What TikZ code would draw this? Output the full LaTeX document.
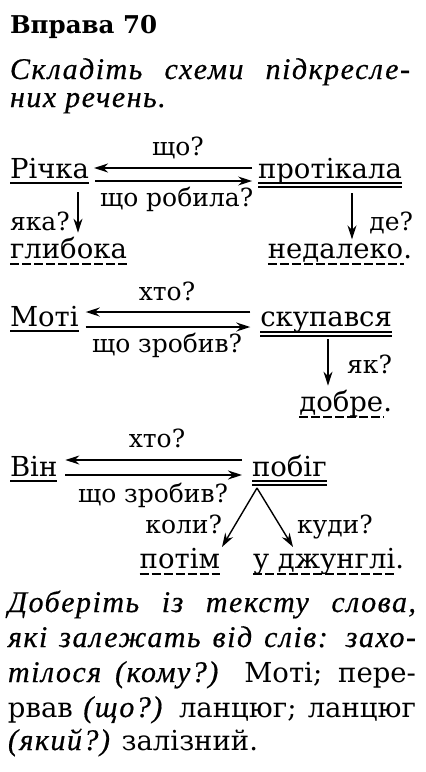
\documentclass[tikz,border=0pt]{standalone}
\usepackage{fontspec}
\setmainfont{DejaVu Serif}
\newfontfamily\itfam{Liberation Serif}[LetterSpace=5,FakeBold=0.5]
\newcommand\itf{\itfam\itshape}
\usetikzlibrary{arrows.meta,calc}
\begin{document}
\begin{tikzpicture}[x=1pt,y=-1pt,
  wd/.style={inner sep=0pt,outer sep=0pt,anchor=base west,font=\fontsize{27.5}{30}\selectfont},
  wde/.style={wd,anchor=base east},
  q/.style={inner sep=0pt,outer sep=0pt,anchor=base west,font=\fontsize{25}{28}\selectfont},
  it/.style={inner sep=0pt,outer sep=0pt,anchor=base west,font=\fontsize{30}{32}\selectfont\itf},
  arr/.style={line width=1.4pt,-{Stealth[length=14pt,width=9pt]}},
  ul/.style={line width=1.2pt},
  ulx/.style={line width=1.2pt,dash pattern=on 9pt off 3pt}]
\useasboundingbox (0,0) rectangle (426,772);
% heading
\node[wd,font=\fontsize{24.5}{28}\selectfont\bfseries] (title) at (10,33) {Вправа 70};
\node[it] (l1) at (10,79) {\makebox[400pt][s]{Складіть схеми підкресле-}};
\node[it] (l2) at (10,107) {них речень.};
% block 1
\node[q,anchor=base] (q1) at (178,155) {що?};
\node[wd] (richka) at (10,178) {Річка};
\node[wde] (prot) at (402,178) {протікала};
\node[q] (q2) at (100,206) {що робила?};
\node[q] (q3) at (10,230) {яка?};
\node[wd] (glyb) at (10,258) {глибока};
\node[q,anchor=base east] (q4) at (413,230) {де?};
\node[wde] (ned) at (412,258) {недалеко.};
\draw[ul] ($(richka.base west)+(0,5)$) -- ($(richka.base east)+(0,5)$);
\draw[ul] ($(prot.base west)+(0,5)$) -- ($(prot.base east)+(0,5)$);
\draw[ul] ($(prot.base west)+(0,9)$) -- ($(prot.base east)+(0,9)$);
\draw[ulx] ($(glyb.base west)+(0,6)$) -- ($(glyb.base east)+(0,6)$);
\draw[ulx] ($(ned.base west)+(0,6)$) -- ($(ned.base east)+(-8,6)$);
\draw[arr] ($(prot.base west)+(-6,-10)$) -- ($(richka.base east)+(5,-10)$);
\draw[arr] ($(richka.base east)+(6,3)$) -- ($(prot.base west)+(-6,3)$);
\coordinate (a1) at ($(richka.base west)+(68,14)$);
\draw[arr] (a1) -- ($(a1 |- glyb.north)+(0,-4)$);
\coordinate (a2) at ($(prot.base east)+(-50,15)$);
\draw[arr] (a2) -- ($(a2 |- ned.north)+(0,-4)$);
% block 2
\node[q,anchor=base] (q5) at (167,300) {хто?};
\node[wd] (moti) at (10,326) {Моті};
\node[wde] (skup) at (392,326) {скупався};
\node[q] (q6) at (92,352) {що зробив?};
\node[q,anchor=base east] (q7) at (392,373) {як?};
\node[wde] (dobre) at (392,411) {добре.};
\draw[ul] ($(moti.base west)+(0,5)$) -- ($(moti.base east)+(0,5)$);
\draw[ul] ($(skup.base west)+(0,6)$) -- ($(skup.base east)+(0,6)$);
\draw[ul] ($(skup.base west)+(0,10)$) -- ($(skup.base east)+(0,10)$);
\draw[ulx] ($(dobre.base west)+(0,6)$) -- ($(dobre.base east)+(-8,6)$);
\draw[arr] ($(skup.base west)+(-10,-14)$) -- ($(moti.base east)+(7,-14)$);
\draw[arr] ($(moti.base east)+(7,1)$) -- ($(skup.base west)+(-10,1)$);
\coordinate (a3) at ($(skup.base east)+(-64,13)$);
\draw[arr] (a3) -- ($(a3 |- dobre.north)+(0,-4)$);
% block 3
\node[q,anchor=base] (q8) at (157,447) {хто?};
\node[wd] (vin) at (10,476) {Він};
\node[wd] (pobig) at (252,476) {побіг};
\node[q] (q9) at (78,502) {що зробив?};
\node[q,anchor=base east] (q10) at (222,533) {коли?};
\node[q] (q11) at (297,533) {куди?};
\node[wde] (potim) at (220,568) {потім};
\node[wd] (dzh) at (253,568) {у джунглі.};
\draw[ul] ($(vin.base west)+(0,5)$) -- ($(vin.base east)+(0,5)$);
\draw[ul] ($(pobig.base west)+(0,5)$) -- ($(pobig.base east)+(0,5)$);
\draw[ul] ($(pobig.base west)+(0,9)$) -- ($(pobig.base east)+(0,9)$);
\draw[ulx] ($(potim.base west)+(0,6)$) -- ($(potim.base east)+(0,6)$);
\draw[ulx] ($(dzh.base west)+(0,6)$) -- ($(dzh.base east)+(-8,6)$);
\draw[arr] ($(pobig.base west)+(-10,-16)$) -- ($(vin.base east)+(8,-16)$);
\draw[arr] ($(vin.base east)+(8,-1)$) -- ($(pobig.base west)+(-10,-1)$);
\coordinate (fork) at ($(pobig.base west)+(5,12)$);
\draw[arr] (fork) -- ($(potim.base east)+(2,-21)$);
\draw[arr] (fork) -- ($(dzh.base west)+(40,-21)$);
% bottom text
\node[wd] (b1) at (8,612) {\makebox[408pt][s]{\fontsize{30}{32}\selectfont\itf Доберіть із тексту слова,}};
\node[wd] (b2) at (8,647) {\makebox[408pt][s]{\fontsize{30}{32}\selectfont\itf які залежать від слів: захо-}};
\node[wd] (b3) at (8,682) {\makebox[408pt][s]{{\fontsize{30}{32}\selectfont\itf тілося (кому?)} Моті; пере-}};
\node[wd] (b4) at (8,717) {\makebox[408pt][s]{рвав {\fontsize{30}{32}\selectfont\itf (що?)} ланцюг; ланцюг}};
\node[wd] (b5) at (8,750) {{\fontsize{30}{32}\selectfont\itf (який?)} залізний.};
\end{tikzpicture}
\end{document}
